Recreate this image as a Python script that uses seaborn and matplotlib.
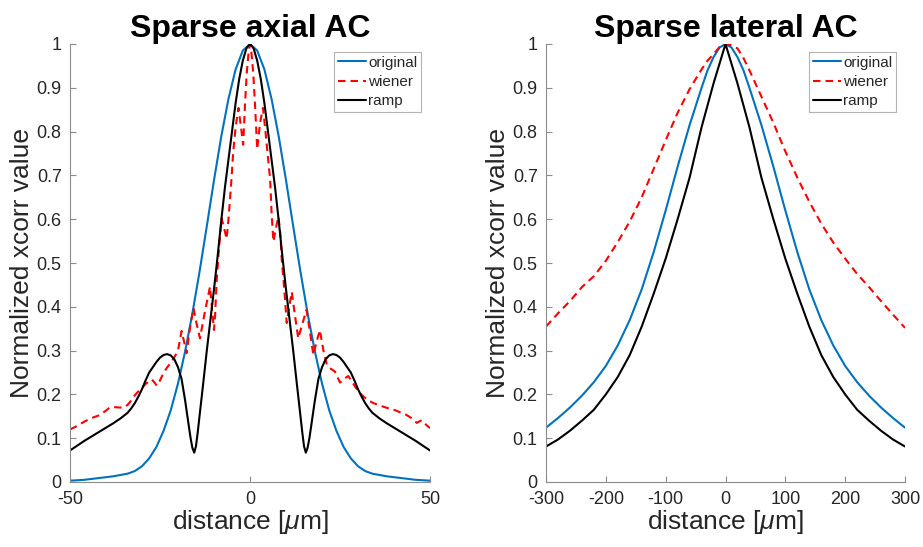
import matplotlib
matplotlib.use("Agg")
import matplotlib.pyplot as plt
import seaborn as sns

# ---------------- data: Sparse axial AC ----------------
axial_x = [-50, -48, -46, -44, -42, -40, -38, -36, -34, -32, -30, -28, -26, -24, -22, -20,
           -18, -16, -14, -12, -10, -8, -6, -4, -2, 0, 2, 4, 6, 8, 10, 12, 14, 16, 18, 20,
           22, 24, 26, 28, 30, 32, 34, 36, 38, 40, 42, 44, 46, 48, 50]
axial_original = [0.003, 0.004, 0.005, 0.007, 0.009, 0.011, 0.013, 0.016, 0.019, 0.025, 0.036,
                  0.054, 0.080, 0.117, 0.164, 0.225, 0.299, 0.385, 0.481, 0.584, 0.689, 0.788,
                  0.874, 0.942, 0.985, 1.000, 0.985, 0.942, 0.874, 0.788, 0.689, 0.584, 0.481,
                  0.385, 0.299, 0.225, 0.164, 0.117, 0.080, 0.054, 0.036, 0.025, 0.019, 0.016,
                  0.013, 0.011, 0.009, 0.007, 0.005, 0.004, 0.003]

axial_ramp_x = [-50, -48, -46, -44, -42, -40, -38, -36, -34, -33, -32, -31, -30, -29, -28, -27,
                -26, -25, -24, -23, -22, -21, -20, -19, -18, -17, -16.5, -16, -15.5, -15, -14.5,
                -14, -13, -12, -11, -10, -9, -8, -7, -6, -5, -4, -3, -2, -1, 0,
                1, 2, 3, 4, 5, 6, 7, 8, 9, 10, 11, 12, 13, 14, 14.5, 15, 15.5, 16, 16.5, 17,
                18, 19, 20, 21, 22, 23, 24, 25, 26, 27, 28, 29, 30, 31, 32, 33, 34, 36, 38,
                40, 42, 44, 46, 48, 50]
axial_ramp = [0.072, 0.083, 0.094, 0.104, 0.114, 0.124, 0.134, 0.145, 0.158, 0.168, 0.180,
              0.195, 0.212, 0.232, 0.250, 0.262, 0.274, 0.284, 0.290, 0.292, 0.289, 0.280,
              0.262, 0.235, 0.185, 0.128, 0.100, 0.078, 0.067, 0.082, 0.115, 0.152, 0.225,
              0.300, 0.370, 0.440, 0.515, 0.595, 0.670, 0.735, 0.800, 0.865, 0.920, 0.962,
              0.990, 1.000,
              0.990, 0.962, 0.920, 0.865, 0.800, 0.735, 0.670, 0.595, 0.515, 0.440, 0.370,
              0.300, 0.225, 0.152, 0.115, 0.082, 0.067, 0.078, 0.100, 0.128, 0.185, 0.235,
              0.262, 0.280, 0.289, 0.292, 0.290, 0.284, 0.274, 0.262, 0.250, 0.232, 0.212,
              0.195, 0.180, 0.168, 0.158, 0.145, 0.134, 0.124, 0.114, 0.104, 0.094, 0.083,
              0.072]

axial_wiener_x = [-50, -48, -46, -44, -42, -40, -39, -38, -36, -35, -34, -33, -32, -31, -30,
                  -29, -28, -27.3, -26.6, -25.9, -25, -24, -23, -22, -21, -20, -19, -18.3,
                  -17.6, -16.7, -15.7, -14.8, -13.9, -12.5, -11.1, -10.5, -10.0, -9.7, -9.3,
                  -8.8, -7.9, -7.2, -6.5, -6.0, -5.6, -5.1, -4.7, -4.0, -3.2, -2.5, -1.9,
                  -1.4, -0.9, -0.4, 0,
                  0.4, 0.9, 1.4, 2.0, 2.8, 3.6, 4.3, 5.0, 5.6, 6.0, 6.5, 7.2, 7.9, 8.4, 8.8,
                  9.3, 9.7, 10.2, 10.9, 11.6, 12.5, 13.4, 14.5, 15.7, 16.7, 17.6, 18.5, 19.4,
                  20.4, 21.3, 22.2, 23.6, 25, 26.4, 27.3, 28.7, 30, 31.5, 33, 34.3, 36, 37,
                  38.5, 40.3, 42, 43.5, 45, 46.3, 47.7, 49, 50]
axial_wiener = [0.120, 0.128, 0.138, 0.146, 0.152, 0.163, 0.170, 0.171, 0.170, 0.170, 0.176,
                0.186, 0.198, 0.207, 0.215, 0.224, 0.230, 0.234, 0.228, 0.220, 0.232, 0.249,
                0.262, 0.272, 0.285, 0.300, 0.345, 0.320, 0.294, 0.350, 0.397, 0.360, 0.328,
                0.390, 0.446, 0.390, 0.347, 0.380, 0.454, 0.514, 0.602, 0.580, 0.555, 0.598,
                0.640, 0.697, 0.750, 0.810, 0.854, 0.810, 0.770, 0.860, 0.934, 0.980, 1.000,
                0.980, 0.934, 0.860, 0.760, 0.820, 0.854, 0.800, 0.740, 0.690, 0.614, 0.549,
                0.580, 0.606, 0.570, 0.510, 0.461, 0.420, 0.363, 0.400, 0.434, 0.380, 0.328,
                0.360, 0.393, 0.340, 0.290, 0.320, 0.347, 0.300, 0.270, 0.260, 0.252, 0.227,
                0.237, 0.242, 0.224, 0.208, 0.195, 0.186, 0.180, 0.175, 0.172, 0.168, 0.164,
                0.158, 0.153, 0.145, 0.135, 0.141, 0.130, 0.123]

# ---------------- data: Sparse lateral AC ----------------
lateral_x = [-300, -280, -260, -240, -220, -200, -180, -160, -140, -120, -100, -80, -60, -40,
             -30, -20, -10, 0, 10, 20, 30, 40, 60, 80, 100, 120, 140, 160, 180, 200, 220, 240,
             260, 280, 300]
lateral_original = [0.124, 0.146, 0.170, 0.197, 0.228, 0.265, 0.312, 0.370, 0.440, 0.525,
                    0.620, 0.720, 0.815, 0.900, 0.940, 0.970, 0.992, 1.000, 0.992, 0.970,
                    0.940, 0.900, 0.815, 0.720, 0.620, 0.525, 0.440, 0.370, 0.312, 0.265,
                    0.228, 0.197, 0.170, 0.146, 0.124]
lateral_ramp = [0.081, 0.097, 0.117, 0.140, 0.165, 0.200, 0.240, 0.290, 0.355, 0.430, 0.510,
                0.600, 0.695, 0.810, 0.860, 0.910, 0.955, 1.000, 0.955, 0.910, 0.860, 0.810,
                0.695, 0.600, 0.510, 0.430, 0.355, 0.290, 0.240, 0.200, 0.165, 0.140, 0.117,
                0.097, 0.081]
lateral_wiener = [0.355, 0.385, 0.413, 0.445, 0.470, 0.505, 0.548, 0.595, 0.650, 0.715, 0.780,
                  0.843, 0.897, 0.942, 0.962, 0.977, 0.993, 1.000, 0.997, 0.990, 0.968, 0.940,
                  0.880, 0.820, 0.755, 0.695, 0.640, 0.590, 0.547, 0.510, 0.475, 0.445, 0.413,
                  0.382, 0.352]

titles = ["Sparse axial AC", "Sparse lateral AC"]
series_names = ["original", "wiener", "ramp"]

# ---------------- style ----------------
sns.set_theme(style="ticks")
plt.rcParams["font.family"] = ["Liberation Sans", "DejaVu Sans"]
plt.rcParams["mathtext.fontset"] = "custom"
plt.rcParams["mathtext.rm"] = "Liberation Sans"
plt.rcParams["mathtext.it"] = "Liberation Sans:italic"

BLUE = "#0072BD"
RED = "#FF0000"
BLACK = "#000000"
SPINE = "#8c8c8c"
TXT = "#262626"

fig = plt.figure(figsize=(9.23, 5.47), dpi=100)
ax1 = fig.add_axes([70 / 923, 65 / 547, 360 / 923, 438 / 547])
ax2 = fig.add_axes([546 / 923, 65 / 547, 359 / 923, 438 / 547])

DASH = (0, (3.6, 2.4))
LW = 1.5


def draw(ax, xo, yo, xw, yw, xr, yr):
    sns.lineplot(x=xo, y=yo, ax=ax, color=BLUE, lw=LW, sort=False, estimator=None,
                 label=series_names[0])
    sns.lineplot(x=xw, y=yw, ax=ax, color=RED, lw=LW, sort=False, estimator=None,
                 linestyle=DASH, label=series_names[1])
    sns.lineplot(x=xr, y=yr, ax=ax, color=BLACK, lw=LW, sort=False, estimator=None,
                 label=series_names[2])


draw(ax1, axial_x, axial_original, axial_wiener_x, axial_wiener, axial_ramp_x, axial_ramp)
draw(ax2, lateral_x, lateral_original, lateral_x, lateral_wiener, lateral_x, lateral_ramp)

yticks = [i / 10 for i in range(11)]
yticklabels = ["0"] + [f"{v:.1f}" for v in yticks[1:-1]] + ["1"]

for ax, title, xlim, xt in [(ax1, titles[0], (-50, 50), [-50, 0, 50]),
                            (ax2, titles[1], (-300, 300), [-300, -200, -100, 0, 100, 200, 300])]:
    ax.set_xlim(*xlim)
    ax.set_ylim(0, 1)
    ax.set_xticks(xt)
    ax.set_xticklabels([str(v) for v in xt])
    ax.set_yticks(yticks)
    ax.set_yticklabels(yticklabels)
    ax.tick_params(axis="both", direction="in", length=4, width=0.8, color=SPINE,
                   labelsize=13, labelcolor=TXT)
    ax.tick_params(axis="y", pad=6)
    ax.tick_params(axis="x", pad=6.5)
    for s in ["top", "right"]:
        ax.spines[s].set_visible(False)
    for s in ["left", "bottom"]:
        ax.spines[s].set_color(SPINE)
        ax.spines[s].set_linewidth(0.8)
    ax.set_title(title, fontsize=23, fontweight="bold", color="black", pad=5)
    ax.set_xlabel(r"distance [$\mu$m]", fontsize=19, color=TXT, labelpad=0)
    ax.set_ylabel("Normalized xcorr value", fontsize=19, color=TXT, labelpad=2)
    leg = ax.legend(loc="upper right", bbox_to_anchor=(0.975, 0.982), fontsize=11,
                    frameon=True, fancybox=False, handlelength=1.85, handletextpad=0.15,
                    labelspacing=0.35, borderpad=0.25, borderaxespad=0)
    leg.get_frame().set_edgecolor("#a0a0a0")
    leg.get_frame().set_linewidth(0.8)
    for t in leg.get_texts():
        t.set_color(TXT)

fig.savefig("out.png", dpi=100)
